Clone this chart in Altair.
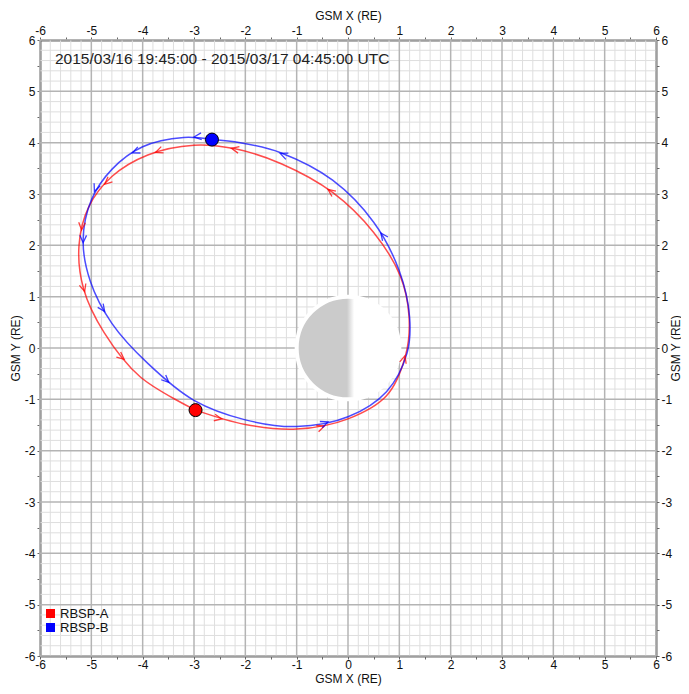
import math
import altair as alt
import pandas as pd

TITLE = "2015/03/16 19:45:00 - 2015/03/17 04:45:00 UTC"
SATS = ["RBSP-A", "RBSP-B"]
COLORS = ["#ff0000", "#0000ff"]

# RBSP-A orbit (GSM X, GSM Y), in travel order, starting at the end-time position
red_x = [-2.97, -2.00, -1.00, 0.00, 0.75, 1.12, 1.19, 1.02, 0.50, -0.30, -1.30, -2.20,
         -3.00, -3.90, -4.60, -5.05, -5.24, -5.15, -4.75, -4.05, -2.97]
red_y = [-1.21, -1.49, -1.58, -1.38, -0.93, -0.15, 0.60, 1.40, 2.25, 3.03, 3.59, 3.88,
         3.95, 3.76, 3.34, 2.75, 2.00, 1.15, 0.30, -0.56, -1.21]

# RBSP-B orbit
blue_x = [-2.65, -3.20, -4.00, -4.60, -5.00, -5.16, -5.02, -4.60, -3.90, -3.00, -2.00,
          -1.00, 0.00, 0.75, 1.15, 1.20, 1.00, 0.50, -0.30, -1.30, -2.10, -2.65]
blue_y = [4.06, 4.10, 3.92, 3.48, 2.88, 2.10, 1.30, 0.48, -0.30, -1.02, -1.40,
          -1.53, -1.34, -0.85, -0.10, 0.60, 1.50, 2.45, 3.27, 3.80, 4.00, 4.06]

# direction arrows along each orbit
red_arrow_x = [-2.27, -3.75, -4.74, -5.19, -5.13, -4.36, -2.46, -0.46, 1.11, -0.39]
red_arrow_y = [3.89, 3.81, 3.19, 2.30, 1.10, -0.22, -1.38, -1.52, -0.15, 3.09]
blue_arrow_x = [-3.00, -4.20, -4.94, -5.16, -4.74, -3.49, -0.39, 0.64, -1.32]
blue_arrow_y = [4.11, 3.80, 3.05, 2.05, 0.71, -0.67, -1.44, 2.24, 3.79]

# spacecraft positions at end time
dot_x = [-2.97, -2.65]
dot_y = [-1.21, 4.06]

tick_values = [v / 2 for v in range(-12, 13)]
major_grid = list(range(-6, 7))
minor_grid = [round(-6 + 0.2 * i, 1) for i in range(61) if i % 5 != 0]

orbit_rows = []
for name, ox, oy in [(SATS[0], red_x, red_y), (SATS[1], blue_x, blue_y)]:
    for i, (a, b) in enumerate(zip(ox, oy)):
        orbit_rows.append({"sat": name, "x": a, "y": b, "i": i})
orbit_df = pd.DataFrame(orbit_rows)


def arrow_rows(name, ox, oy, ax, ay):
    """Arrow heading from the orbit's own travel direction around the arrow position."""
    rows = []
    n = len(ox) - 1  # closed loop: last point repeats the first
    for a, b in zip(ax, ay):
        d = [(ox[m] - a) ** 2 + (oy[m] - b) ** 2 for m in range(n)]
        k = min(range(n), key=lambda m: d[m])
        kn = (k + 1) % n
        kp = (k - 1) % n
        dx = ox[kn] - ox[kp]
        dy = oy[kn] - oy[kp]
        ang = math.degrees(math.atan2(dx, dy)) % 360
        rows.append({"sat": name, "x": a, "y": b, "angle": ang})
    return rows


arrow_df = pd.DataFrame(arrow_rows(SATS[0], red_x, red_y, red_arrow_x, red_arrow_y)
                        + arrow_rows(SATS[1], blue_x, blue_y, blue_arrow_x, blue_arrow_y))
dot_df = pd.DataFrame({"sat": SATS, "x": dot_x, "y": dot_y})

W = 616
H = 616
PX_PER_UNIT = W / 12
xs = alt.Scale(domain=[-6, 6], nice=False, zero=False)
ys = alt.Scale(domain=[-6, 6], nice=False, zero=False)
cs = alt.Scale(domain=SATS, range=COLORS)

label_expr = "datum.value % 1 == 0 ? '' + datum.value : ''"


def x_axis(orient):
    ty = 22 if orient == "bottom" else -25
    return alt.Axis(orient=orient, values=tick_values, labelExpr=label_expr, title="GSM X (RE)",
                    grid=False, tickSize=3, labelPadding=0,
                    titleX=W / 2, titleY=ty, titleAlign="center", titleBaseline="middle",
                    labelFlush=False, labelOverlap=False)


def y_axis(orient):
    tx = 19 if orient == "right" else -25
    return alt.Axis(orient=orient, values=tick_values, labelExpr=label_expr, title="GSM Y (RE)",
                    grid=False, tickSize=3, labelPadding=2, titleAngle=270,
                    titleX=tx, titleY=H / 2, titleAlign="center", titleBaseline="middle",
                    labelFlush=False, labelOverlap=False)


minor_df = pd.DataFrame({"v": minor_grid})
major_df = pd.DataFrame({"v": major_grid})

minor_v = alt.Chart(minor_df).mark_rule(color="#dedede", strokeWidth=1).encode(
    x=alt.X("v:Q", scale=xs, axis=None))
minor_h = alt.Chart(minor_df).mark_rule(color="#dedede", strokeWidth=1).encode(
    y=alt.Y("v:Q", scale=ys, axis=None))
major_v = alt.Chart(major_df).mark_rule(color="#b4b4b4", strokeWidth=1.5).encode(
    x=alt.X("v:Q", scale=xs, axis=None))
major_h = alt.Chart(major_df).mark_rule(color="#b4b4b4", strokeWidth=1.5).encode(
    y=alt.Y("v:Q", scale=ys, axis=None))

earth_df = pd.DataFrame({"x": [0.0], "y": [0.0]})
earth = alt.Chart(earth_df).mark_arc(
    fill=alt.Gradient(gradient="linear",
                      stops=[alt.GradientStop(color="#cbcbcb", offset=0),
                             alt.GradientStop(color="#cbcbcb", offset=0.49),
                             alt.GradientStop(color="#ffffff", offset=0.56),
                             alt.GradientStop(color="#ffffff", offset=1)],
                      x1=0, x2=1, y1=0, y2=0),
    stroke="white", strokeWidth=4,
).encode(
    x=alt.X("x:Q", scale=xs, axis=None),
    y=alt.Y("y:Q", scale=ys, axis=None),
    theta=alt.value(0), theta2=alt.value(2 * math.pi),
    radius=alt.value(PX_PER_UNIT),
)

lines = alt.Chart(orbit_df).mark_line(strokeWidth=1.5, opacity=0.7, interpolate="catmull-rom").encode(
    x=alt.X("x:Q", scale=xs, axis=x_axis("bottom")),
    y=alt.Y("y:Q", scale=ys, axis=y_axis("left")),
    color=alt.Color("sat:N", scale=cs, legend=None),
    detail="sat:N",
    order=alt.Order("i:Q"),
)

CHEVRON = "M -0.45 1 L 0 0 L 0.45 1"
arrows = alt.Chart(arrow_df).mark_point(shape=CHEVRON, filled=False, size=220, strokeWidth=1.3,
                                        opacity=0.75).encode(
    x=alt.X("x:Q", scale=xs, axis=None),
    y=alt.Y("y:Q", scale=ys, axis=None),
    color=alt.Color("sat:N", scale=cs, legend=None),
    angle=alt.Angle("angle:Q", scale=None),
)

dots = alt.Chart(dot_df).mark_point(filled=True, shape="circle", size=169, stroke="black",
                                    strokeWidth=1, opacity=1).encode(
    x=alt.X("x:Q", scale=xs, axis=x_axis("top")),
    y=alt.Y("y:Q", scale=ys, axis=y_axis("right")),
    color=alt.Color("sat:N", scale=cs,
                    legend=alt.Legend(title=None, orient="none", legendX=4, legendY=567,
                                      symbolType="square", symbolSize=81, symbolStrokeWidth=0,
                                      symbolOpacity=1, labelFontSize=13,
                                      labelFont="Liberation Sans", labelColor="#111",
                                      padding=0, rowPadding=0, labelOffset=3)),
)

title = alt.Chart(pd.DataFrame({"t": [TITLE]})).mark_text(
    align="left", baseline="middle", fontSize=15.5, font="Liberation Sans", color="#222"
).encode(x=alt.value(15), y=alt.value(19), text="t:N")

chart = alt.layer(minor_v, minor_h, major_v, major_h, earth, lines, arrows, dots, title).resolve_axis(
    x="independent", y="independent"
).resolve_legend(color="independent").properties(
    width=W, height=H,
    autosize=alt.AutoSizeParams(type="none"),
    padding={"left": 32, "top": 32, "right": 25, "bottom": 30},
    background="white",
).configure_view(stroke=None).configure_axis(
    domainColor="#666666", domainWidth=2, tickColor="#666666", tickWidth=1,
    labelFont="Liberation Sans", labelFontSize=12, labelColor="#111111",
    titleFont="Liberation Sans", titleFontSize=12, titleFontWeight="normal", titleColor="#111111",
)

chart.save("out.html", embed_options={"renderer": "svg", "actions": False})
